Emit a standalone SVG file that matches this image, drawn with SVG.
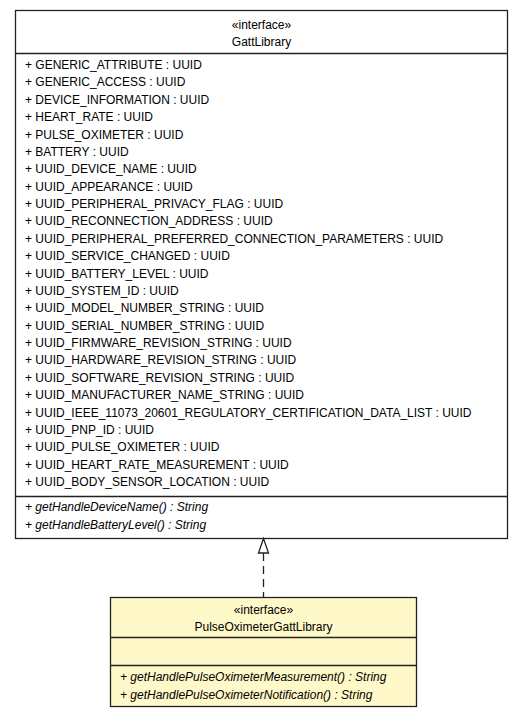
<svg xmlns="http://www.w3.org/2000/svg" width="528" height="717" viewBox="0 0 528 717">
<style>
text{font-family:"Liberation Sans",Arial,sans-serif;font-size:12px;fill:#000}
.c{text-anchor:middle}
.i{font-style:italic}
.box{stroke:#222;stroke-width:1.3}
.ln{stroke:#222;stroke-width:1.3}
</style>
<rect width="528" height="717" fill="#fff"/>
<g id="GattLibrary">
<rect class="box" x="15.5" y="10.5" width="492" height="528" fill="#fff"/>
<line class="ln" x1="15.5" y1="53.5" x2="507.5" y2="53.5"/>
<line class="ln" x1="15.5" y1="496.5" x2="507.5" y2="496.5"/>
<text class="c" x="261.5" y="29">«interface»</text>
<text class="c" x="261.5" y="46">GattLibrary</text>
<text x="25" y="69">+ GENERIC_ATTRIBUTE : UUID</text>
<text x="25" y="86.4">+ GENERIC_ACCESS : UUID</text>
<text x="25" y="103.8">+ DEVICE_INFORMATION : UUID</text>
<text x="25" y="121.1">+ HEART_RATE : UUID</text>
<text x="25" y="138.5">+ PULSE_OXIMETER : UUID</text>
<text x="25" y="155.9">+ BATTERY : UUID</text>
<text x="25" y="173.3">+ UUID_DEVICE_NAME : UUID</text>
<text x="25" y="190.6">+ UUID_APPEARANCE : UUID</text>
<text x="25" y="208">+ UUID_PERIPHERAL_PRIVACY_FLAG : UUID</text>
<text x="25" y="225.4">+ UUID_RECONNECTION_ADDRESS : UUID</text>
<text x="25" y="242.8">+ UUID_PERIPHERAL_PREFERRED_CONNECTION_PARAMETERS : UUID</text>
<text x="25" y="260.1">+ UUID_SERVICE_CHANGED : UUID</text>
<text x="25" y="277.5">+ UUID_BATTERY_LEVEL : UUID</text>
<text x="25" y="294.9">+ UUID_SYSTEM_ID : UUID</text>
<text x="25" y="312.3">+ UUID_MODEL_NUMBER_STRING : UUID</text>
<text x="25" y="329.6">+ UUID_SERIAL_NUMBER_STRING : UUID</text>
<text x="25" y="347">+ UUID_FIRMWARE_REVISION_STRING : UUID</text>
<text x="25" y="364.4">+ UUID_HARDWARE_REVISION_STRING : UUID</text>
<text x="25" y="381.8">+ UUID_SOFTWARE_REVISION_STRING : UUID</text>
<text x="25" y="399.1">+ UUID_MANUFACTURER_NAME_STRING : UUID</text>
<text x="25" y="416.5">+ UUID_IEEE_11073_20601_REGULATORY_CERTIFICATION_DATA_LIST : UUID</text>
<text x="25" y="433.9">+ UUID_PNP_ID : UUID</text>
<text x="25" y="451.3">+ UUID_PULSE_OXIMETER : UUID</text>
<text x="25" y="468.6">+ UUID_HEART_RATE_MEASUREMENT : UUID</text>
<text x="25" y="486">+ UUID_BODY_SENSOR_LOCATION : UUID</text>
<text class="i" x="25" y="511">+ getHandleDeviceName() : String</text>
<text class="i" x="25" y="528.5">+ getHandleBatteryLevel() : String</text>
</g>
<g id="PulseOximeterGattLibrary">
<rect class="box" x="110.5" y="597.5" width="306" height="109" fill="#fff8c8"/>
<line class="ln" x1="110.5" y1="637.5" x2="416.5" y2="637.5"/>
<line class="ln" x1="110.5" y1="665.5" x2="416.5" y2="665.5"/>
<text class="c" x="263.5" y="614">«interface»</text>
<text class="c" x="263.5" y="631">PulseOximeterGattLibrary</text>
<text class="i" x="120" y="681">+ getHandlePulseOximeterMeasurement() : String</text>
<text class="i" x="120" y="698.5">+ getHandlePulseOximeterNotification() : String</text>
</g>
<g id="connectors">
<line x1="263.5" y1="553" x2="263.5" y2="597" stroke="#222" stroke-width="1.3" stroke-dasharray="8,5"/>
<polygon points="263.5,538.5 258.5,553 268.5,553" fill="#fff" stroke="#222" stroke-width="1.3"/>
</g>
</svg>
